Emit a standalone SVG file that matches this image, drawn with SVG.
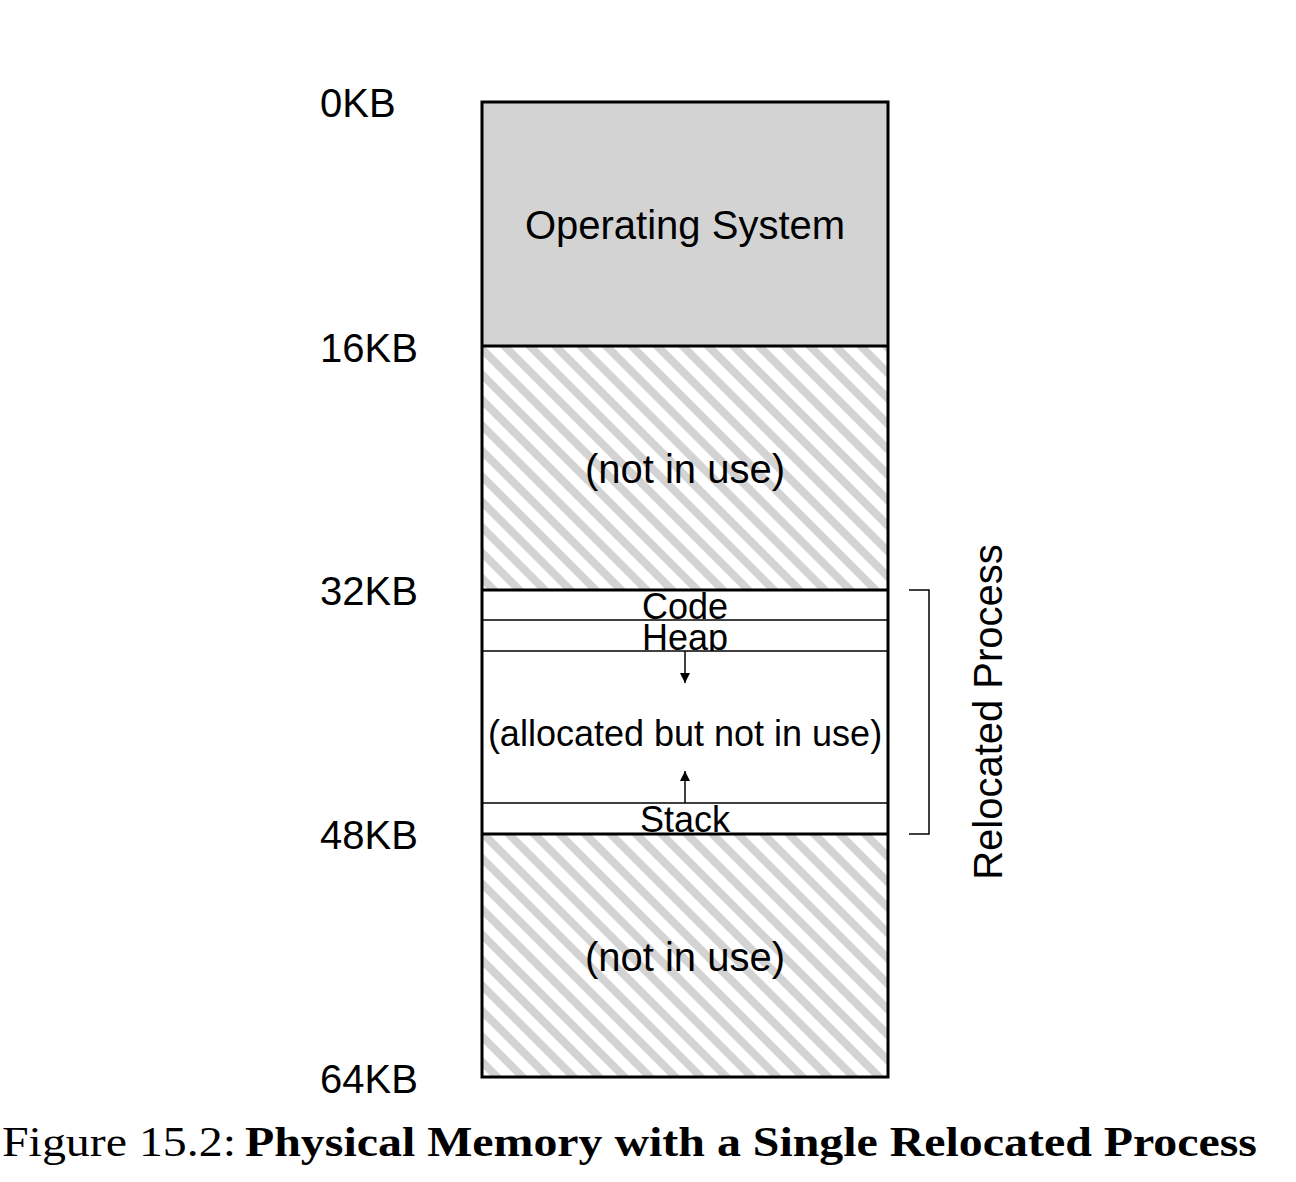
<svg xmlns="http://www.w3.org/2000/svg" width="1296" height="1182" viewBox="0 0 1296 1182">
<style>
.lbl{font-family:"Liberation Sans",Arial,sans-serif;font-size:40px;fill:#000}
.sm{font-family:"Liberation Sans",Arial,sans-serif;font-size:36px;fill:#000}
.thin{stroke:#000;stroke-width:1.5;fill:none}
.thick{stroke:#000;stroke-width:3;fill:none}
</style>
<defs>
<pattern id="hatch" patternUnits="userSpaceOnUse" width="18" height="18" patternTransform="rotate(-45)">
<rect width="18" height="18" fill="#fff"/>
<rect width="8" height="18" fill="#d3d3d3"/>
</pattern>
<marker id="ah" viewBox="0 0 10 10" refX="10" refY="5" markerWidth="10" markerHeight="10" markerUnits="userSpaceOnUse" orient="auto">
<path d="M0,0 L10,5 L0,10 z" fill="#000"/>
</marker>
</defs>
<g id="os"><rect x="482" y="102" width="406" height="244" fill="#d3d3d3"/><text class="lbl" x="685" y="239" text-anchor="middle">Operating System</text></g>
<g id="free1"><rect x="482" y="346" width="406" height="244" fill="url(#hatch)"/><text class="lbl" x="685" y="483" text-anchor="middle">(not in use)</text></g>
<g id="code"><rect x="482" y="590" width="406" height="30" fill="#fff"/><text class="sm" x="685" y="619" text-anchor="middle">Code</text></g>
<g id="heap"><rect x="482" y="620" width="406" height="31" fill="#fff"/><text class="sm" x="685" y="650" text-anchor="middle">Heap</text></g>
<g id="alloc"><rect x="482" y="651" width="406" height="152" fill="#fff"/><text class="sm" x="685" y="746" text-anchor="middle">(allocated but not in use)</text></g>
<g id="stack"><rect x="482" y="803" width="406" height="31" fill="#fff"/><text class="sm" x="685" y="832" text-anchor="middle">Stack</text></g>
<g id="free2"><rect x="482" y="834" width="406" height="243" fill="url(#hatch)"/><text class="lbl" x="685" y="971" text-anchor="middle">(not in use)</text></g>
<g id="lines">
<line class="thin" x1="482" y1="620" x2="888" y2="620"/>
<line class="thin" x1="482" y1="651" x2="888" y2="651"/>
<line class="thin" x1="482" y1="803" x2="888" y2="803"/>
<line class="thick" x1="482" y1="346" x2="888" y2="346"/>
<line class="thick" x1="482" y1="590" x2="888" y2="590"/>
<line class="thick" x1="482" y1="834" x2="888" y2="834"/>
<rect class="thick" x="482" y="102" width="406" height="975"/>
</g>
<g id="connectors">
<line x1="685" y1="651" x2="685" y2="683" stroke="#000" stroke-width="1.5" marker-end="url(#ah)"/>
<line x1="685" y1="803" x2="685" y2="771" stroke="#000" stroke-width="1.5" marker-end="url(#ah)"/>
<polyline class="thin" points="909,590 929,590 929,834 909,834"/>
</g>
<g id="addr">
<text class="lbl" x="320" y="117">0KB</text>
<text class="lbl" x="320" y="362">16KB</text>
<text class="lbl" x="320" y="605">32KB</text>
<text class="lbl" x="320" y="849">48KB</text>
<text class="lbl" x="320" y="1093">64KB</text>
</g>
<g id="bracket-label"><text class="lbl" transform="translate(1002,712) rotate(-90)" text-anchor="middle">Relocated Process</text></g>
<g id="caption">
<text x="2" y="1156" font-family="'Liberation Serif','DejaVu Serif',serif" font-size="43" textLength="234" lengthAdjust="spacingAndGlyphs">Figure 15.2:</text>
<text x="245" y="1156" font-family="'Liberation Serif','DejaVu Serif',serif" font-size="43" font-weight="bold" textLength="1012" lengthAdjust="spacingAndGlyphs">Physical Memory with a Single Relocated Process</text>
</g>
</svg>
